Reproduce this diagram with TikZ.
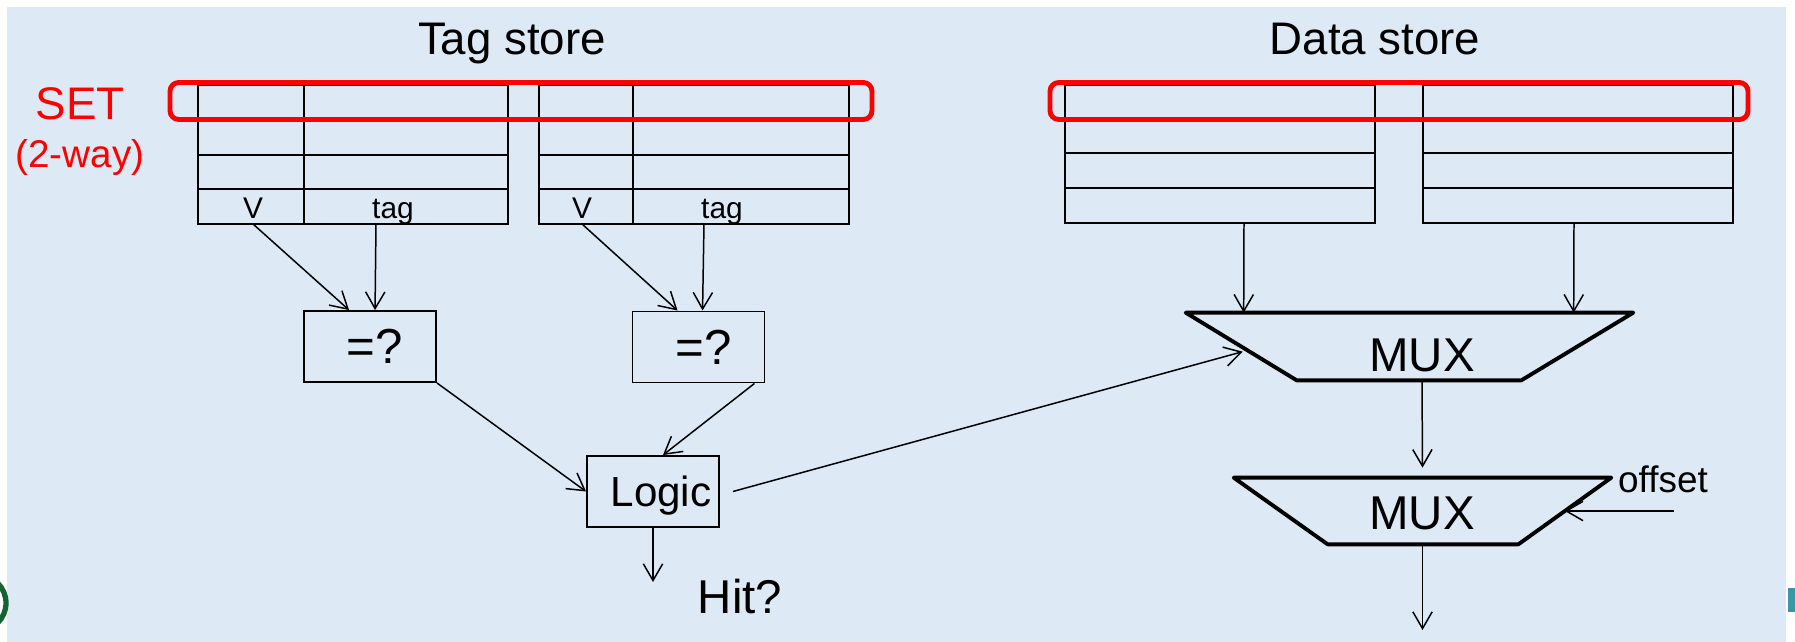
\documentclass[tikz,border=0pt]{standalone}
\usepackage{fontspec}
\setmainfont{Liberation Sans}
\usetikzlibrary{arrows.meta,calc}
\definecolor{bgblue}{RGB}{221,233,245}
\definecolor{setred}{RGB}{255,0,0}
\definecolor{logogreen}{RGB}{20,100,50}
\definecolor{logoteal}{RGB}{60,150,170}
\begin{document}
\begin{tikzpicture}[x=0.02cm,y=-0.02cm,
  tbl/.style={line width=1.1pt},
  arr/.style={line width=0.85pt,-{Straight Barb[length=9.5pt,width=11pt]}},
  cmpbox/.style={draw,line width=1.1pt,minimum width=2.64cm,minimum height=1.42cm,inner sep=0pt,text depth=0pt},
  muxframe/.style={inner sep=0pt},
  muxline/.style={line width=2.2pt,line join=round},
  setbox/.style={draw=setred,line width=2.8pt,rounded corners=5pt},
  title/.style={font=\fontsize{26}{30}\selectfont,anchor=base,inner sep=0pt},
  celltxt/.style={font=\fontsize{17}{20}\selectfont,anchor=base,inner sep=0pt},
  muxtxt/.style={font=\fontsize{27}{30}\selectfont,anchor=base,inner sep=0pt},
  redtxt/.style={text=setred,anchor=base,inner sep=0pt}
]
\useasboundingbox (0,0) rectangle (1795,642);
\fill[white] (0,0) rectangle (1795,642);
\fill[bgblue] (7,7) rectangle (1786,642);
% logo fragments
\draw[logogreen,line width=3pt] (-22,603) circle (28);
\fill[logoteal] (1788,588) rectangle (1798,612);

% titles
\node[title] (tagtitle) at (512,55) {Tag store};
\node[title] (datatitle) at (1375,55) {Data store};
\node[redtxt,font=\fontsize{26}{30}\selectfont] (setlbl) at (80,120) {SET};
\node[redtxt,font=\fontsize{22}{26}\selectfont] (waylbl) at (80,167) {(2-way)};

% tag store tables
\foreach \xl/\xd/\xr in {198/304/508, 539/633/849}{
  \draw[tbl] (\xl,85) rectangle (\xr,224);
  \foreach \yy in {121,155,189} \draw[tbl] (\xl,\yy) -- (\xr,\yy);
  \draw[tbl] (\xd,85) -- (\xd,224);
}
\node[celltxt] (vtxt1) at (253,218) {V};
\node[celltxt] (tagtxt1) at (393,218) {tag};
\node[celltxt] (vtxt2) at (582,218) {V};
\node[celltxt] (tagtxt2) at (722,218) {tag};

% data store tables
\foreach \xl/\xr in {1065/1375, 1423/1733}{
  \draw[tbl] (\xl,85) rectangle (\xr,223);
  \foreach \yy in {118,153,188} \draw[tbl] (\xl,\yy) -- (\xr,\yy);
}

% set highlight
\draw[setbox] (170,82.5) rectangle (872,119.5);
\draw[setbox] (1050,82.5) rectangle (1748,119.5);

% connection points
\coordinate (v1) at (253,224);
\coordinate (t1) at (376,224);
\coordinate (v2) at (582,224);
\coordinate (t2) at (704,224);
\coordinate (d1) at (1244,223);
\coordinate (d2) at (1574,223);

% comparators and logic
\node[cmpbox,font=\fontsize{28}{30}\selectfont] (eq1) at (370,346.5) {\hspace*{0.2cm}=?};
\node[cmpbox,font=\fontsize{28}{30}\selectfont] (eq2) at (698.5,347) {\hspace*{0.2cm}=?};
\node[cmpbox,font=\fontsize{24}{28}\selectfont] (logic) at (653,491.5) {\hspace*{0.32cm}Logic};

\draw[arr] (v1) -- ([shift={(46,0)}]eq1.north west);
\draw[arr] (t1) -- ([shift={(72,0)}]eq1.north west);
\draw[arr] (v2) -- ([shift={(46,0)}]eq2.north west);
\draw[arr] (t2) -- ([shift={(71,0)}]eq2.north west);
\draw[arr] (eq1.south east) -- (logic.west);
\draw[arr] ([shift={(-11,0)}]eq2.south east) -- ([shift={(10,0)}]logic.north);

\coordinate (hitend) at (653,582);
\draw[arr] (logic.south) -- (hitend);
\node[muxtxt] (hit) at (740,613) {Hit?};

% MUX 1
\node[muxframe,minimum width=8.94cm,minimum height=1.34cm] (mux1) at (1409.5,346.5) {};
\draw[muxline] (mux1.north west) -- (mux1.north east) -- ([shift={(-112,0)}]mux1.south east) -- ([shift={(111,0)}]mux1.south west) -- cycle;
\node[muxtxt] (mux1t) at (1422,371) {MUX};

% MUX 2
\node[muxframe,minimum width=7.54cm,minimum height=1.32cm] (mux2) at (1422.5,511) {};
\draw[muxline] (mux2.north west) -- (mux2.north east) -- ([shift={(-93,0)}]mux2.south east) -- ([shift={(94,0)}]mux2.south west) -- cycle;
\node[muxtxt] (mux2t) at (1422,529) {MUX};

\draw[arr] (d1) -- ([shift={(58,0)}]mux1.north west);
\draw[arr] (d2) -- ([shift={(388,0)}]mux1.north west);
\draw[arr] ([shift={(13,0)}]logic.east) -- ([shift={(57,39)}]mux1.north west);
\draw[arr] ([shift={(12.5,0)}]mux1.south) -- ([shift={(0,-10)}]mux2.north);

\node[celltxt,font=\fontsize{21}{24}\selectfont] (offlbl) at (1663,492) {offset};
\coordinate (offin) at (1674,511);
\draw[arr] (offin) -- ([shift={(-46.5,0)}]mux2.east);

\coordinate (outend) at (1422.5,630);
\draw[arr] (mux2.south) -- (outend);
\end{tikzpicture}
\end{document}
